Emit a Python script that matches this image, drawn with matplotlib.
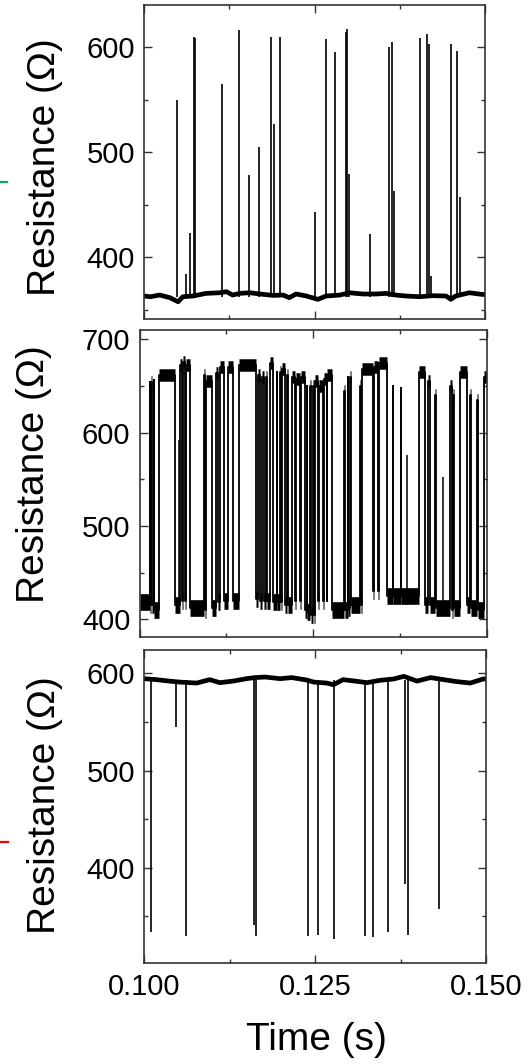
import numpy as np
import matplotlib.pyplot as plt
from matplotlib.lines import Line2D
from matplotlib.ticker import MultipleLocator, FormatStrFormatter

plt.rcParams['font.family'] = ['Liberation Sans', 'DejaVu Sans']

# top trace: wandering baseline plus short upward spikes
top_base_t = [0.1000, 0.1009, 0.1023, 0.1038, 0.1050, 0.1057, 0.1072, 0.1091,
              0.1111, 0.1121, 0.1130, 0.1140, 0.1155, 0.1170, 0.1189, 0.1204,
              0.1213, 0.1223, 0.1238, 0.1255, 0.1267, 0.1287, 0.1301, 0.1321,
              0.1340, 0.1355, 0.1369, 0.1384, 0.1404, 0.1423, 0.1443, 0.1450,
              0.1457, 0.1477, 0.1496, 0.1500]
top_base_r = [362.9, 362.2, 363.8, 361.3, 357.4, 362.2, 362.9, 365.4,
              366.0, 367.0, 363.8, 365.4, 366.0, 364.8, 363.5, 363.8,
              361.3, 364.8, 362.9, 359.7, 362.9, 363.8, 366.0, 364.8,
              364.8, 365.4, 363.8, 362.9, 362.2, 363.2, 362.9, 359.7,
              362.9, 366.0, 364.4, 364.4]
top_spike_t = [0.10482, 0.10619, 0.10668, 0.10726, 0.10750, 0.11145, 0.11394,
               0.11545, 0.11681, 0.11857, 0.11911, 0.11998, 0.12505, 0.12666,
               0.12797, 0.12963, 0.12980, 0.13000, 0.13314, 0.13592, 0.13630,
               0.13660, 0.14050, 0.14152, 0.14186, 0.14206, 0.14503, 0.14586,
               0.14630]
top_spike_r = [550, 384, 423, 610, 609, 565, 616, 478, 505, 610, 527, 610,
               443, 608, 595, 614, 617, 479, 422, 600, 605, 463, 609, 612,
               603, 382, 603, 596, 457]

# middle trace: two level telegraph signal
high_start = [0.10147, 0.10170, 0.10204, 0.10281, 0.10587, 0.10630, 0.10673,
              0.10924, 0.10957, 0.11105, 0.11154, 0.11273, 0.11432, 0.11698,
              0.11767, 0.11816, 0.11878, 0.11974, 0.12022, 0.12046, 0.12127,
              0.12190, 0.12248, 0.12320, 0.12406, 0.12454, 0.12501, 0.12525,
              0.12579, 0.12655, 0.12703, 0.12947, 0.12996, 0.13029, 0.13173,
              0.13197, 0.13374, 0.13446, 0.13643, 0.13758, 0.14026, 0.14155,
              0.14252, 0.14468, 0.14515, 0.14612, 0.14755, 0.14861, 0.14960]
high_end = [0.10155, 0.10180, 0.10213, 0.10515, 0.10607, 0.10655, 0.10731,
            0.10938, 0.11043, 0.11129, 0.11212, 0.11345, 0.11681, 0.11734,
            0.11787, 0.11835, 0.11925, 0.11983, 0.12032, 0.12094, 0.12137,
            0.12238, 0.12310, 0.12382, 0.12415, 0.12464, 0.12511, 0.12573,
            0.12645, 0.12694, 0.12774, 0.12957, 0.13005, 0.13039, 0.13183,
            0.13364, 0.13436, 0.13557, 0.13652, 0.13767, 0.14108, 0.14180,
            0.14262, 0.14492, 0.14525, 0.14708, 0.14766, 0.14871, 0.15000]
high_level = [654, 654, 656, 662, 672, 676, 672, 662, 655, 664, 670, 670,
              672, 662, 660, 660, 675, 665, 665, 668, 662, 660, 658, 660,
              650, 650, 650, 655, 650, 658, 662, 645, 660, 660, 650, 668,
              670, 675, 650, 648, 665, 655, 640, 650, 640, 665, 640, 635,
              660]
low_level = [418, 415, 415, 410, 415, 420, 420, 412, 410, 412, 418, 420,
             420, 422, 420, 420, 420, 418, 418, 418, 415, 415, 420, 420,
             410, 408, 405, 405, 420, 420, 420, 410, 410, 412, 415, 415,
             430, 430, 425, 425, 425, 415, 415, 412, 410, 412, 415, 412,
             410]
mid_part_t = [0.10564, 0.13853, 0.14371]
mid_part_r = [592, 576, 552]

# bottom trace: baseline with downward dips
bot_base_t = [0.1000, 0.1018, 0.1037, 0.1052, 0.1077, 0.1096, 0.1111, 0.1130,
              0.1150, 0.1162, 0.1177, 0.1199, 0.1216, 0.1238, 0.1248, 0.1267,
              0.1277, 0.1291, 0.1311, 0.1326, 0.1345, 0.1365, 0.1380, 0.1399,
              0.1419, 0.1438, 0.1457, 0.1477, 0.1496, 0.1500]
bot_base_r = [594.5, 593.5, 592.0, 591.0, 590.0, 593.5, 590.4, 592.0,
              594.5, 595.6, 596.2, 594.5, 595.6, 593.1, 591.0, 590.0,
              588.3, 593.5, 591.8, 590.4, 592.8, 594.2, 596.9, 592.0,
              595.6, 593.5, 591.5, 590.0, 594.2, 594.2]
bot_dip_t = [0.10098, 0.10468, 0.10610, 0.11608, 0.11642, 0.12393, 0.12544,
             0.12773, 0.13231, 0.13348, 0.13563, 0.13816, 0.13865, 0.14318]
bot_dip_r = [334, 545, 330, 341, 330, 330, 331, 327, 330, 329, 334, 383,
             331, 358]

W, H = 531, 1064
fig = plt.figure(figsize=(W / 100, H / 100), dpi=100)


def px_axes(left, top, right, bottom):
    return fig.add_axes([left / W, 1 - bottom / H, (right - left) / W, (bottom - top) / H])


frame = '#333333'


def style(ax, ylim, labels_x=False):
    ax.set_xlim(0.100, 0.150)
    ax.set_ylim(*ylim)
    ax.xaxis.set_major_locator(MultipleLocator(0.025))
    ax.xaxis.set_minor_locator(MultipleLocator(0.0125))
    ax.yaxis.set_major_locator(MultipleLocator(100))
    ax.yaxis.set_minor_locator(MultipleLocator(50))
    ax.xaxis.set_major_formatter(FormatStrFormatter('%.3f'))
    ax.tick_params(which='both', direction='in', top=True, right=True,
                   color=frame, width=1.0, labelsize=21)
    ax.tick_params(which='major', length=5.5)
    ax.tick_params(which='minor', length=3)
    ax.tick_params(axis='y', pad=6.5)
    ax.tick_params(axis='x', pad=7, labelbottom=labels_x)
    for s in ax.spines.values():
        s.set_color(frame)
        s.set_linewidth(1.2)


# top panel
ax1 = px_axes(144, 5, 485, 319)
ax1.plot(top_base_t, top_base_r, color='black', lw=3.4)
ax1.vlines(top_spike_t, 362, top_spike_r, color='black', lw=1.2)
style(ax1, (341, 640))

# middle panel
ax2 = px_axes(139.5, 330, 487, 637)
tt = [0.100]
rr = [low_level[0]]
for i in range(len(high_start)):
    tt += [high_start[i], high_start[i], high_end[i]]
    rr += [low_level[i], high_level[i], high_level[i]]
    if i + 1 < len(low_level):
        tt.append(high_end[i])
        rr.append(low_level[i + 1])
ax2.plot(tt, rr, color='black', lw=1.3)
low_start = [0.100] + high_end[:len(low_level) - 1]
ax2.hlines(low_level, low_start, high_start, color='black', lw=12, capstyle='butt')
ax2.hlines(high_level, high_start, high_end, color='black', lw=9, capstyle='butt')
ax2.vlines(mid_part_t, 415, mid_part_r, color='black', lw=1.1)
style(ax2, (381, 710))

# bottom panel
ax3 = px_axes(144, 650, 486, 963)
ax3.plot(bot_base_t, bot_base_r, color='black', lw=3.4)
ax3.vlines(bot_dip_t, bot_dip_r, 593, color='black', lw=1.2)
style(ax3, (302, 624), labels_x=True)

# axis labels
lab = dict(rotation=90, ha='center', va='center', fontsize=28)
fig.text(45 / W, 1 - 167 / H, 'Resistance (Ω)', **lab)
fig.text(34 / W, 1 - 474 / H, 'Resistance (Ω)', **lab)
fig.text(45 / W, 1 - 805 / H, 'Resistance (Ω)', **lab)
fig.text(316 / W, 1 - 1040 / H, 'Time (s)', ha='center', va='center', fontsize=28)

# small coloured marks cut off at the left edge
fig.add_artist(Line2D([0, 7 / W], [1 - 182 / H, 1 - 182 / H], color='#00b050', lw=1.6))
fig.add_artist(Line2D([0, 8 / W], [1 - 842 / H, 1 - 842 / H], color='red', lw=1.6))

fig.savefig('out.png', dpi=100)
